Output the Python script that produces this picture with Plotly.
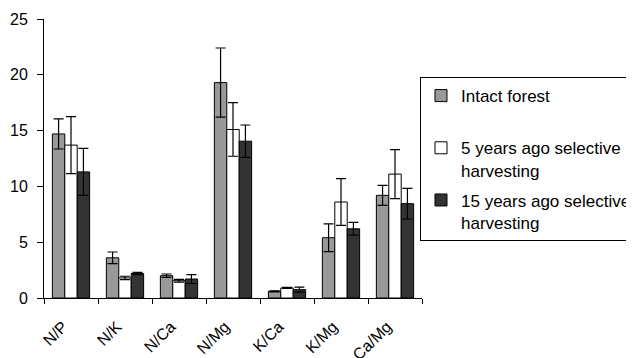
import plotly.graph_objects as go

categories = ["N/P", "N/K", "N/Ca", "N/Mg", "K/Ca", "K/Mg", "Ca/Mg"]
intact = [14.7, 3.6, 2.0, 19.3, 0.6, 5.4, 9.2]
intact_err = [1.35, 0.52, 0.15, 3.1, 0.05, 1.25, 0.9]
five_years = [13.7, 1.8, 1.55, 15.1, 0.9, 8.6, 11.1]
five_err = [2.55, 0.15, 0.12, 2.4, 0.05, 2.1, 2.2]
fifteen_years = [11.3, 2.2, 1.7, 14.05, 0.75, 6.2, 8.45]
fifteen_err = [2.1, 0.1, 0.4, 1.45, 0.22, 0.57, 1.37]
y_ticks = [0, 5, 10, 15, 20, 25]

names = ["Intact forest<br> ", "5 years ago selective<br>harvesting", "15 years ago selective<br>harvesting"]
colors = ["#999999", "#ffffff", "#333333"]

fig = go.Figure()
for i, (name, vals, errs, col) in enumerate(zip(names, [intact, five_years, fifteen_years],
                                 [intact_err, five_err, fifteen_err], colors)):
    fig.add_trace(go.Bar(
        x=categories, y=vals, name=name, legendgroup=str(i),
        marker=dict(color=col, line=dict(color="black", width=1)),
        error_y=dict(type="data", array=errs, visible=True, color="black", thickness=1.2, width=5),
    ))

# page body has an 8px default margin; the figure is sized to fill the rest of the window
fig.update_layout(
    width=626, height=350,
    margin=dict(l=36, r=212, t=11, b=60, autoexpand=False),
    paper_bgcolor="white", plot_bgcolor="white",
    barmode="group", bargap=0.31, bargroupgap=0,
    font=dict(family="Liberation Sans", size=16, color="black"),
    showlegend=True,
    legend=dict(x=0.9947, y=0.792, xanchor="left", yanchor="top",
                bordercolor="black", borderwidth=1, valign="top", tracegroupgap=5,
                font=dict(size=17), traceorder="grouped", itemwidth=30),
    xaxis=dict(showline=True, linecolor="black", linewidth=1, ticks="outside",
               tickson="boundaries", ticklen=5, tickcolor="black", tickangle=-45,
               tickfont=dict(size=16), automargin=False,
               ticklabelstandoff=12, ticklabelshift=-8),
    yaxis=dict(range=[0, 25], tickvals=y_ticks, showline=True, linecolor="black",
               linewidth=1, ticks="outside", ticklen=6, tickcolor="black",
               showgrid=False, zeroline=False, tickfont=dict(size=16), automargin=False,
               ticklabelstandoff=6),
)

fig.write_html("out.html")
